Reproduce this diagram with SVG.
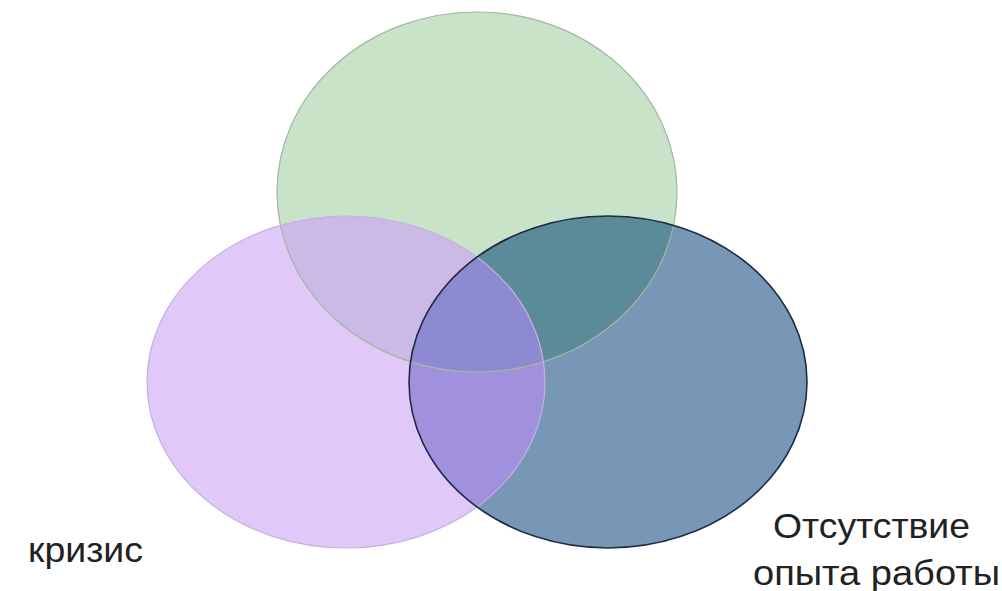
<svg xmlns="http://www.w3.org/2000/svg" width="1002" height="591" viewBox="0 0 1002 591">
<style>
.lbl{font-family:"Liberation Sans",Arial,sans-serif;font-size:35px;fill:#222}
</style>
<defs>
<ellipse id="eG" cx="477" cy="192" rx="200" ry="180"/>
<ellipse id="eP" cx="346" cy="382" rx="199" ry="166"/>
<ellipse id="eB" cx="608" cy="382" rx="199" ry="166"/>
<clipPath id="cG"><use href="#eG"/></clipPath>
<clipPath id="cP"><use href="#eP"/></clipPath>
</defs>
<rect width="1002" height="591" fill="#fff"/>
<g id="green"><use href="#eG" fill="#c9e3c9"/></g>
<g id="purple"><use href="#eP" fill="#e0c9f9"/></g>
<g id="blue"><use href="#eB" fill="#7896b6"/></g>
<g id="overlaps">
<use href="#eP" fill="#cbb9e6" clip-path="url(#cG)"/>
<use href="#eB" fill="#5b8a98" clip-path="url(#cG)"/>
<use href="#eB" fill="#a191dc" clip-path="url(#cP)"/>
<g clip-path="url(#cG)"><use href="#eB" fill="#8d8ad2" clip-path="url(#cP)"/></g>
</g>
<g id="outlines" fill="none">
<use href="#eG" stroke="#a3b5a3" stroke-width="1.2"/>
<use href="#eP" stroke="#c6b0e2" stroke-width="1.2"/>
<use href="#eB" stroke="#1c2c44" stroke-width="1.6"/>
</g>
<g id="labels">
<text class="lbl" x="28" y="562" textLength="115" lengthAdjust="spacingAndGlyphs">кризис</text>
<text class="lbl" x="773" y="538" textLength="197" lengthAdjust="spacingAndGlyphs">Отсутствие</text>
<text class="lbl" x="753" y="585" textLength="247" lengthAdjust="spacingAndGlyphs">опыта работы</text>
</g>
</svg>
